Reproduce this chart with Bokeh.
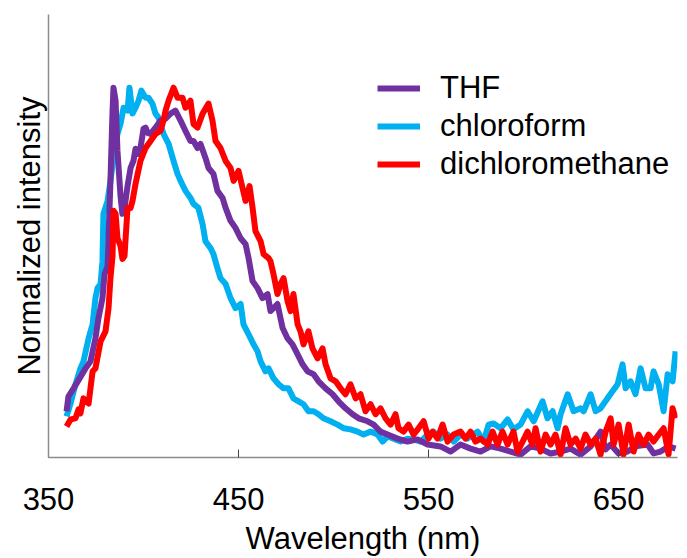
from bokeh.plotting import figure
from bokeh.models import Range1d, FixedTicker, Legend, LegendItem
from bokeh.embed import file_html
from bokeh.resources import INLINE

# ---- data ----
thf_wl = [359.5, 360.5, 363.2, 369.5, 372.1, 374.7, 376.3, 378.4, 379.5, 381.1, 382.6, 383.7, 384.2,
          385.3, 386.3, 387.9, 388.9, 390.0, 391.6, 393.2, 394.7, 395.8, 397.4, 398.4, 400.0, 401.1,
          402.1, 403.7, 406.3, 408.9, 411.6, 414.2, 416.8, 419.5, 422.1, 424.7, 426.3, 428.4, 430.0,
          432.6, 434.2, 436.8, 438.9, 441.6, 443.2, 445.8, 448.4, 451.1, 453.7, 455.3, 457.4, 460.0,
          462.6, 465.3, 466.8, 470.5, 473.2, 475.8, 478.4, 481.1, 483.7, 486.3, 489.5, 492.1, 495.8,
          499.5, 502.6, 506.3, 510.0, 513.2, 517.9, 521.1, 524.7, 528.4, 533.7, 538.9, 544.2, 549.5,
          556.3, 561.6, 566.8, 572.1, 577.4, 582.6, 587.9, 593.2, 598.4, 603.7, 608.9, 614.2, 619.5,
          624.7, 630.0, 635.3, 640.5, 643.2, 645.8, 650.0, 654.7, 658.9, 665.3, 668.4, 672.1, 676.3, 680.0]
thf_int = [0.125, 0.165, 0.187, 0.241, 0.260, 0.322, 0.377, 0.431, 0.496, 0.518, 0.748, 0.938, 1.000,
           0.965, 0.829, 0.707, 0.659, 0.675, 0.734, 0.783, 0.802, 0.835, 0.821, 0.837, 0.889, 0.892,
           0.878, 0.875, 0.892, 0.911, 0.916, 0.930, 0.938, 0.911, 0.883, 0.856, 0.856, 0.837, 0.848,
           0.810, 0.783, 0.767, 0.721, 0.702, 0.675, 0.640, 0.621, 0.593, 0.577, 0.539, 0.477, 0.458,
           0.431, 0.442, 0.396, 0.415, 0.350, 0.322, 0.306, 0.279, 0.252, 0.233, 0.225, 0.206, 0.187,
           0.171, 0.152, 0.133, 0.117, 0.106, 0.098, 0.089, 0.070, 0.062, 0.051, 0.043, 0.049, 0.035,
           0.030, 0.016, 0.035, 0.024, 0.016, 0.030, 0.024, 0.016, 0.008, 0.030, 0.024, 0.011, 0.016,
           0.024, 0.008, 0.030, 0.070, 0.022, 0.035, 0.011, 0.016, 0.030, 0.035, 0.011, 0.016, 0.030, 0.024]

chl_wl = [359.5, 361.6, 364.2, 366.8, 368.4, 371.1, 373.2, 374.7, 375.8, 377.4, 378.4, 378.9, 381.1,
          382.6, 384.2, 386.3, 387.9, 389.5, 391.6, 392.6, 394.2, 395.8, 397.4, 398.9, 401.1, 402.6,
          404.7, 406.3, 407.9, 410.5, 413.2, 415.8, 417.9, 419.5, 422.1, 424.7, 426.3, 428.9, 431.1,
          432.6, 435.3, 436.8, 438.9, 440.5, 443.2, 445.8, 448.4, 451.1, 452.6, 455.3, 457.9, 460.0,
          461.6, 464.2, 465.8, 468.4, 471.1, 473.7, 476.3, 478.9, 481.6, 484.2, 486.8, 489.5, 492.1,
          494.7, 498.4, 502.1, 505.3, 508.9, 512.6, 515.8, 519.5, 523.2, 525.8, 528.4, 531.6, 535.3,
          538.9, 542.1, 545.8, 549.5, 552.6, 556.3, 560.0, 563.2, 566.8, 570.5, 575.8, 578.9, 581.6,
          584.2, 587.9, 591.6, 594.7, 598.4, 602.1, 605.3, 610.0, 612.6, 615.3, 617.9, 619.5, 623.2,
          626.3, 630.0, 631.6, 635.3, 637.9, 640.5, 644.2, 646.8, 649.5, 652.1, 653.7, 656.3, 658.9,
          661.6, 664.2, 666.8, 668.4, 671.1, 673.7, 675.8, 678.4, 680.0]
chl_int = [0.111, 0.146, 0.198, 0.241, 0.260, 0.322, 0.360, 0.431, 0.458, 0.469, 0.531, 0.659, 0.694,
           0.748, 0.810, 0.875, 0.902, 0.946, 0.938, 1.000, 0.930, 0.946, 0.965, 0.992, 0.973, 0.973,
           0.957, 0.930, 0.919, 0.875, 0.848, 0.802, 0.767, 0.748, 0.721, 0.702, 0.686, 0.675, 0.631,
           0.585, 0.566, 0.550, 0.512, 0.485, 0.469, 0.431, 0.404, 0.415, 0.360, 0.333, 0.306, 0.287,
           0.260, 0.233, 0.241, 0.214, 0.198, 0.187, 0.187, 0.160, 0.152, 0.144, 0.125, 0.125, 0.117,
           0.106, 0.098, 0.089, 0.079, 0.076, 0.070, 0.062, 0.070, 0.062, 0.043, 0.057, 0.051, 0.043,
           0.051, 0.049, 0.043, 0.062, 0.070, 0.051, 0.062, 0.043, 0.062, 0.051, 0.070, 0.043, 0.089,
           0.092, 0.079, 0.103, 0.076, 0.089, 0.125, 0.098, 0.152, 0.106, 0.125, 0.079, 0.117, 0.171,
           0.125, 0.133, 0.125, 0.171, 0.125, 0.133, 0.160, 0.179, 0.198, 0.252, 0.187, 0.206, 0.171,
           0.241, 0.187, 0.187, 0.233, 0.198, 0.125, 0.225, 0.206, 0.287]

dcm_wl = [359.5, 361.6, 364.2, 365.8, 366.8, 368.4, 371.1, 373.2, 374.7, 377.4, 380.0, 381.6, 382.6,
          383.7, 384.2, 385.3, 386.3, 387.9, 388.9, 390.0, 391.6, 393.2, 394.2, 395.8, 398.4, 401.1,
          403.7, 406.3, 408.9, 410.5, 411.6, 413.2, 415.8, 417.9, 420.5, 422.1, 424.7, 426.3, 428.4,
          431.1, 434.2, 436.3, 437.9, 440.5, 443.2, 445.8, 447.4, 450.0, 452.1, 453.7, 455.8, 457.4,
          458.9, 461.6, 463.2, 465.8, 466.8, 468.4, 470.5, 472.1, 473.7, 475.8, 477.4, 478.9, 481.1,
          482.6, 484.2, 486.8, 488.9, 491.6, 494.2, 495.8, 498.4, 501.1, 503.7, 506.3, 508.9, 511.6,
          514.2, 516.8, 519.5, 522.1, 524.7, 527.4, 530.0, 532.6, 534.2, 536.8, 539.5, 542.1, 544.7,
          547.4, 550.0, 552.1, 554.7, 557.4, 560.0, 563.2, 566.8, 569.5, 572.1, 574.7, 577.4, 581.1,
          583.7, 586.3, 588.9, 591.6, 594.7, 596.8, 599.5, 602.1, 604.7, 606.3, 608.9, 611.6, 614.2,
          616.8, 619.5, 622.1, 624.7, 627.4, 630.0, 632.6, 635.3, 637.9, 640.5, 643.2, 645.8, 647.4,
          650.0, 652.6, 655.3, 657.9, 660.5, 663.2, 665.8, 668.4, 671.1, 673.7, 676.3, 678.4, 680.0]
dcm_int = [0.084, 0.103, 0.106, 0.130, 0.119, 0.160, 0.146, 0.233, 0.241, 0.314, 0.341, 0.404, 0.485,
           0.545, 0.667, 0.659, 0.593, 0.572, 0.537, 0.545, 0.675, 0.675, 0.694, 0.740, 0.802, 0.837,
           0.856, 0.875, 0.883, 0.911, 0.938, 0.965, 1.000, 0.973, 0.973, 0.946, 0.965, 0.902, 0.892,
           0.930, 0.957, 0.911, 0.856, 0.837, 0.802, 0.783, 0.748, 0.775, 0.729, 0.694, 0.734, 0.675,
           0.612, 0.585, 0.550, 0.539, 0.531, 0.496, 0.442, 0.469, 0.485, 0.423, 0.396, 0.442, 0.360,
           0.341, 0.306, 0.341, 0.295, 0.268, 0.295, 0.252, 0.214, 0.206, 0.187, 0.171, 0.198, 0.160,
           0.171, 0.125, 0.144, 0.117, 0.133, 0.106, 0.089, 0.117, 0.079, 0.070, 0.089, 0.062, 0.079,
           0.098, 0.051, 0.070, 0.051, 0.089, 0.043, 0.062, 0.070, 0.051, 0.070, 0.043, 0.051, 0.035,
           0.070, 0.035, 0.070, 0.035, 0.070, 0.016, 0.043, 0.070, 0.035, 0.079, 0.016, 0.062, 0.035,
           0.062, 0.008, 0.079, 0.035, 0.051, 0.024, 0.062, 0.035, 0.051, 0.008, 0.070, 0.106, 0.035,
           0.089, 0.008, 0.089, 0.016, 0.062, 0.035, 0.062, 0.043, 0.062, 0.079, 0.008, 0.133, 0.106]

series_names = ["THF", "chloroform", "dichloromethane"]
series_colors = ["#7030A0", "#00B0F0", "#FF0000"]
x_ticks = [350, 450, 550, 650]

FONT = "Liberation Sans"
LW = 6

p = figure(width=679, height=558, output_backend="svg", toolbar_location=None,
           x_range=Range1d(350, 681), y_range=Range1d(0, 1.198),
           min_border_left=48, min_border_right=2, min_border_top=14, min_border_bottom=0)
p.outline_line_color = None
p.xgrid.visible = False
p.ygrid.visible = False
p.background_fill_color = "white"

r_chl = p.line(chl_wl, chl_int, line_color=series_colors[1], line_width=LW, line_join="round")
r_thf = p.line(thf_wl, thf_int, line_color=series_colors[0], line_width=LW, line_join="round")
r_dcm = p.line(dcm_wl, dcm_int, line_color=series_colors[2], line_width=LW, line_join="round")

xa = p.xaxis[0]
xa.ticker = FixedTicker(ticks=x_ticks)
xa.minor_tick_line_color = None
xa.major_tick_in = 8
xa.major_tick_out = 0
xa.major_tick_line_color = "#444444"
xa.axis_line_color = "#8c8c8c"
xa.axis_line_width = 1.5
xa.major_label_text_font = FONT
xa.major_label_text_font_size = "31px"
xa.major_label_text_color = "black"
xa.major_label_standoff = 30
xa.axis_label = "Wavelength (nm)"
xa.axis_label_text_font = FONT
xa.axis_label_text_font_size = "31px"
xa.axis_label_text_font_style = "normal"
xa.axis_label_text_color = "black"
xa.axis_label_standoff = 8

ya = p.yaxis[0]
ya.ticker = FixedTicker(ticks=[])
ya.minor_tick_line_color = None
ya.major_tick_line_color = None
ya.major_label_text_font_size = "0px"
ya.axis_line_color = "#8c8c8c"
ya.axis_line_width = 1.5
ya.axis_label = "Normalized intensity"
ya.axis_label_text_font = FONT
ya.axis_label_text_font_size = "31px"
ya.axis_label_text_font_style = "normal"
ya.axis_label_text_color = "black"
ya.axis_label_standoff = 2

legend = Legend(items=[
    LegendItem(label=series_names[0], renderers=[r_thf]),
    LegendItem(label=series_names[1], renderers=[r_chl]),
    LegendItem(label=series_names[2], renderers=[r_dcm]),
], location=(329, 274))
legend.label_text_font = FONT
legend.label_text_font_size = "31px"
legend.label_text_color = "black"
legend.glyph_width = 43
legend.glyph_height = 20
legend.label_height = 38
legend.label_standoff = 20
legend.spacing = 0
legend.padding = 0
legend.margin = 0
legend.border_line_color = None
legend.background_fill_alpha = 0
p.add_layout(legend)

open("out.html", "w").write(file_html(p, INLINE))
